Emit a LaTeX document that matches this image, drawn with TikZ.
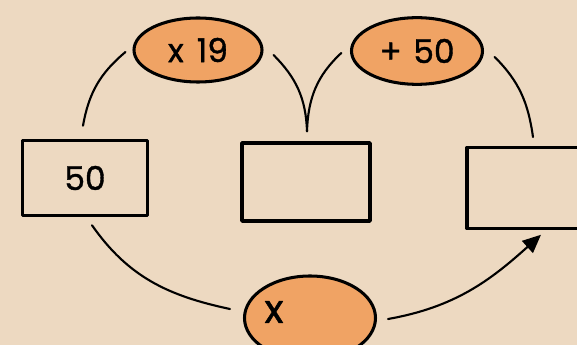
\documentclass[tikz,border=0pt]{standalone}
\usepackage{fontspec}
\setmainfont{Poppins}
\newfontfamily\labelfont{Poppins}[FakeBold=1.2]
\usetikzlibrary{arrows.meta,shapes.geometric}
\definecolor{paper}{RGB}{237,217,193}
\definecolor{peach}{RGB}{240,163,100}
\tikzset{
	numbox/.style={draw=black,line width=3pt,inner sep=0pt,font=\labelfont\fontsize{28}{30}\selectfont},
	opoval/.style={ellipse,draw=black,line width=2.6pt,fill=peach,inner sep=0pt,font=\labelfont\fontsize{28}{30}\selectfont},
	link/.style={line width=1.8pt}
}
\begin{document}
\begin{tikzpicture}[line cap=round,line join=round,x=0.03cm,y=0.03cm]
			\useasboundingbox (0,0) rectangle (577,-345);
			\clip (0,0) rectangle (577,-345);
			\fill[paper] (0,0) rectangle (577,-345);
			% boxes
			\node[numbox,minimum width=3.75cm,minimum height=2.25cm] (b50) at (85,-178) {50};
			\node[numbox,minimum width=3.84cm,minimum height=2.34cm] (b2) at (306,-182) {};
			\node[numbox,minimum width=3.9cm,minimum height=2.43cm] (b3) at (532,-188) {};
			% operations
			\node[opoval,minimum width=3.84cm,minimum height=1.92cm] (e19) at (198,-50) {x\hspace{0.4em}19};
			\node[opoval,minimum width=3.93cm,minimum height=2.0cm] (e50) at (417,-51) {+\hspace{0.35em}50};
			\node[opoval,minimum width=3.93cm,minimum height=2.52cm] (ex) at (310,-318) {};
			\node[font=\labelfont\fontsize{34}{36}\selectfont] (tx) at (274,-312) {x};
			% connectors
			\draw[link] ([xshift=-0.06cm,yshift=0.39cm]b50.north) to[out=80,in=220] ([xshift=-0.21cm,yshift=-0.06cm]e19.west);
			\draw[link] ([xshift=0.3cm,yshift=-0.15cm]e19.east) to[out=-45,in=92] ([xshift=0.03cm,yshift=0.3cm]b2.north);
			\draw[link] ([xshift=-0.26cm,yshift=-0.06cm]e50.west) to[out=-137,in=88] ([xshift=0.03cm,yshift=0.3cm]b2.north);
			\draw[link] ([xshift=0.32cm,yshift=-0.18cm]e50.east) to[out=-45,in=98] ([xshift=0.03cm,yshift=0.26cm]b3.north);
			\draw[link] ([xshift=0.21cm,yshift=-0.24cm]b50.south) to[out=-55,in=168] ([xshift=-0.39cm,yshift=0.27cm]ex.west);
			\draw[link,-{Triangle[length=0.55cm,width=0.48cm]}] ([xshift=0.33cm,yshift=-0.03cm]ex.east) to[out=10,in=222] ([xshift=0.27cm,yshift=-0.135cm]b3.south);
\end{tikzpicture}
\end{document}
